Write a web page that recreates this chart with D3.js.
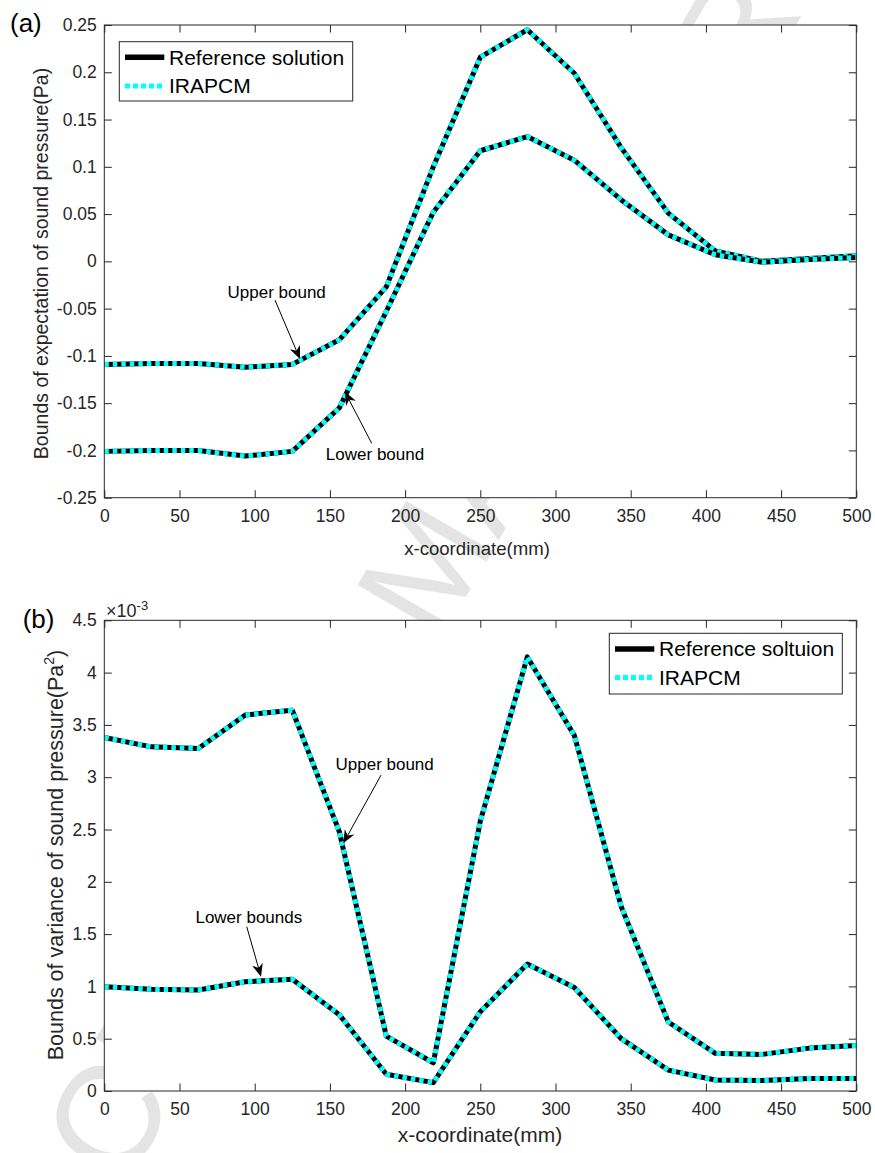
<!DOCTYPE html>
<html>
<head>
<meta charset="utf-8">
<script src="https://cdn.jsdelivr.net/npm/d3@7"></script>
<style>
  body { margin: 0; background: #fff; }
  svg { display: block; font-family: "Liberation Sans", Arial, sans-serif; }
</style>
</head>
<body>
<svg width="875" height="1153"></svg>
<script>
// x positions of the sampled points (mm)
const xCoords = [0, 31.25, 62.5, 93.75, 125, 156.25, 187.5, 218.75, 250, 281.25, 312.5, 343.75, 375, 406.25, 437.5, 468.75, 500];

// (a) bounds of expectation (Pa)
const expUpper = [-0.109, -0.108, -0.108, -0.112, -0.109, -0.083, -0.027, 0.100, 0.216, 0.245, 0.199, 0.120, 0.051, 0.011, 0.000, 0.003, 0.006];
const expLower = [-0.201, -0.200, -0.200, -0.206, -0.201, -0.155, -0.053, 0.052, 0.117, 0.132, 0.107, 0.065, 0.028, 0.007, -0.001, 0.002, 0.004];

// (b) bounds of variance (x 1e-3 Pa^2)
const varUpper = [3.38, 3.29, 3.275, 3.595, 3.64, 2.48, 0.525, 0.27, 2.58, 4.15, 3.40, 1.76, 0.66, 0.36, 0.35, 0.41, 0.435];
const varLower = [0.997, 0.972, 0.966, 1.045, 1.068, 0.73, 0.16, 0.08, 0.758, 1.214, 0.99, 0.50, 0.20, 0.105, 0.10, 0.12, 0.12];

const xTicks = [0, 50, 100, 150, 200, 250, 300, 350, 400, 450, 500];
const expTicks = [-0.25, -0.2, -0.15, -0.1, -0.05, 0, 0.05, 0.1, 0.15, 0.2, 0.25];
const varTicks = [0, 0.5, 1, 1.5, 2, 2.5, 3, 3.5, 4, 4.5];

const legendA = ["Reference solution", "IRAPCM"];
const legendB = ["Reference soltuion", "IRAPCM"];

// annotations in data coordinates: [label, textX, textY, tailX, tailY, headX, headY]
const notesA = [
  ["Upper bound", 114.6, -0.032, 113.5, -0.041, 130.1, -0.1033],
  ["Lower bound", 180, -0.2038, 177.8, -0.1925, 160.0, -0.138],
];
const notesB = [
  ["Upper bound", 186.4, 3.126, 184, 3.02, 158.9, 2.368],
  ["Lower bounds", 96.1, 1.661, 94.7, 1.571, 104.2, 1.093],
];

const svg = d3.select("svg");
const axisColor = "#262626";
const plotLeft = 104.3;
const plotRight = 856.3;
const tickLen = 7.5;

function drawWatermark() {
  let wm = svg
    .append("text")
    .text("ACCEPTED MANUSCRIPT")
    .attr("font-size", 145)
    .attr("fill", "#e4e4e4");
  // anchor the "M" of the watermark
  const ext = wm.node().getExtentOfChar(9);
  const mx = ext.x + ext.width / 2;
  const my = ext.y + ext.height / 2;
  wm.attr("transform", `translate(425,568) rotate(-60) translate(${-mx},${-my})`);
}

function arrow(x1, y1, x2, y2) {
  const ang = Math.atan2(y2 - y1, x2 - x1);
  const ux = Math.cos(ang), uy = Math.sin(ang);
  const nx = -uy, ny = ux;
  const L = 13, W = 5.5, notch = 9;
  svg
    .append("line")
    .attr("x1", x1)
    .attr("y1", y1)
    .attr("x2", x2 - ux * notch)
    .attr("y2", y2 - uy * notch)
    .attr("stroke", "#000")
    .attr("stroke-width", 1);
  const pts = [
    [x2, y2],
    [x2 - ux * L + nx * W, y2 - uy * L + ny * W],
    [x2 - ux * notch, y2 - uy * notch],
    [x2 - ux * L - nx * W, y2 - uy * L - ny * W],
  ];
  svg.append("polygon").attr("points", pts.map((p) => p.join(",")).join(" ")).attr("fill", "#000");
}

function drawPanel(p) {
  const x = d3.scaleLinear().domain([0, 500]).range([plotLeft, plotRight]);
  const y = d3.scaleLinear().domain(p.yDomain).range([p.bottom, p.top]);

  svg
    .append("rect")
    .attr("x", plotLeft)
    .attr("y", p.top)
    .attr("width", plotRight - plotLeft)
    .attr("height", p.bottom - p.top)
    .attr("fill", "#fff");

  const g = svg.append("g");
  g.append("g")
    .attr("transform", `translate(0,${p.bottom})`)
    .call(d3.axisBottom(x).tickValues(xTicks).tickSizeInner(-tickLen).tickSizeOuter(0).tickPadding(12));
  g.append("g")
    .attr("transform", `translate(0,${p.top})`)
    .call(d3.axisTop(x).tickValues(xTicks).tickSizeInner(-tickLen).tickSizeOuter(0).tickFormat(""));
  g.append("g")
    .attr("transform", `translate(${plotLeft},0)`)
    .call(d3.axisLeft(y).tickValues(p.yTicks).tickSizeInner(-tickLen).tickSizeOuter(0).tickPadding(7.6).tickFormat(p.fmt));
  g.append("g")
    .attr("transform", `translate(${plotRight},0)`)
    .call(d3.axisRight(y).tickValues(p.yTicks).tickSizeInner(-tickLen).tickSizeOuter(0).tickFormat(""));
  g.selectAll(".domain").remove();
  g.selectAll("g").attr("font-family", null).attr("font-size", null);
  g.selectAll(".tick line").attr("stroke", axisColor);
  g.selectAll(".tick text").attr("fill", axisColor).attr("font-size", 17.5);

  const line = d3
    .line()
    .x((d, i) => x(xCoords[i]))
    .y((d) => y(d));

  [p.upper, p.lower].forEach((series) => {
    svg
      .append("path")
      .attr("d", line(series))
      .attr("fill", "none")
      .attr("stroke", "#000")
      .attr("stroke-width", 5)
      .attr("stroke-linejoin", "round");
    svg
      .append("path")
      .attr("d", line(series))
      .attr("fill", "none")
      .attr("stroke", "#00ffff")
      .attr("stroke-width", 5)
      .attr("stroke-dasharray", "4.5,4")
      .attr("stroke-linejoin", "round");
  });

  // box
  svg
    .append("rect")
    .attr("x", plotLeft)
    .attr("y", p.top)
    .attr("width", plotRight - plotLeft)
    .attr("height", p.bottom - p.top)
    .attr("fill", "none")
    .attr("stroke", axisColor)
    .attr("stroke-width", 1);

  // annotations
  p.notes.forEach((n) => {
    svg
      .append("text")
      .text(n[0])
      .attr("x", x(n[1]))
      .attr("y", y(n[2]))
      .attr("dy", "0.35em")
      .attr("text-anchor", "middle")
      .attr("font-size", 17)
      .attr("fill", "#000");
    arrow(x(n[3]), y(n[4]), x(n[5]), y(n[6]));
  });

  // legend
  const lg = p.legendBox;
  svg
    .append("rect")
    .attr("x", lg.x)
    .attr("y", lg.y)
    .attr("width", lg.w)
    .attr("height", lg.h)
    .attr("fill", "#fff")
    .attr("stroke", axisColor)
    .attr("stroke-width", 1);
  p.legend.forEach((name, i) => {
    const ly = lg.y + 15.6 + i * 28.7;
    svg
      .append("line")
      .attr("x1", lg.x + 5.7)
      .attr("x2", lg.x + 45)
      .attr("y1", ly)
      .attr("y2", ly)
      .attr("stroke", i === 0 ? "#000" : "#00ffff")
      .attr("stroke-width", i === 0 ? 5.5 : 5)
      .attr("stroke-dasharray", i === 0 ? null : "5,3");
    svg
      .append("text")
      .text(name)
      .attr("x", lg.x + 49.7)
      .attr("y", ly)
      .attr("dy", "0.35em")
      .attr("font-size", 21)
      .attr("fill", "#000");
  });

  // x label
  svg
    .append("text")
    .text("x-coordinate(mm)")
    .attr("x", p.xLabel.x)
    .attr("y", p.xLabel.y)
    .attr("text-anchor", "middle")
    .attr("font-size", p.xLabel.size)
    .attr("fill", axisColor);

  // panel tag
  svg
    .append("text")
    .text(p.tag.text)
    .attr("x", p.tag.x)
    .attr("y", p.tag.y)
    .attr("font-size", 26)
    .attr("fill", "#000");
}

drawWatermark();

drawPanel({
  top: 25,
  bottom: 497.7,
  yDomain: [-0.25, 0.25],
  yTicks: expTicks,
  fmt: (d) => String(+d.toFixed(2)),
  upper: expUpper,
  lower: expLower,
  notes: notesA,
  legend: legendA,
  legendBox: { x: 119.3, y: 41.7, w: 233.4, h: 59.3 },
  xLabel: { x: 477, y: 555, size: 18.6 },
  tag: { text: "(a)", x: 10, y: 32 },
});

drawPanel({
  top: 620.3,
  bottom: 1091,
  yDomain: [0, 4.5],
  yTicks: varTicks,
  fmt: (d) => String(+d.toFixed(1)),
  upper: varUpper,
  lower: varLower,
  notes: notesB,
  legend: legendB,
  legendBox: { x: 609.3, y: 633.3, w: 233, h: 60.7 },
  xLabel: { x: 480, y: 1142, size: 21 },
  tag: { text: "(b)", x: 22.7, y: 628 },
});

// y labels
svg
  .append("text")
  .text("Bounds of expectation of sound pressure(Pa)")
  .attr("transform", "translate(48.3,263.5) rotate(-90)")
  .attr("text-anchor", "middle")
  .attr("font-size", 19.5)
  .attr("fill", axisColor);

let yLabB = svg
  .append("text")
  .attr("transform", "translate(63.3,855) rotate(-90)")
  .attr("text-anchor", "middle")
  .attr("font-size", 21.5)
  .attr("fill", axisColor);
yLabB.append("tspan").text("Bounds of variance of sound pressure(Pa");
yLabB.append("tspan").text("2").attr("font-size", 14).attr("dy", -9);
yLabB.append("tspan").text(")").attr("dy", 9);

// exponent of the variance axis
let expo = svg
  .append("text")
  .attr("x", 106)
  .attr("y", 617)
  .attr("font-size", 18)
  .attr("fill", axisColor);
expo.append("tspan").text("\u00d710");
expo.append("tspan").text("-3").attr("font-size", 13).attr("dy", -7);
</script>
</body>
</html>
